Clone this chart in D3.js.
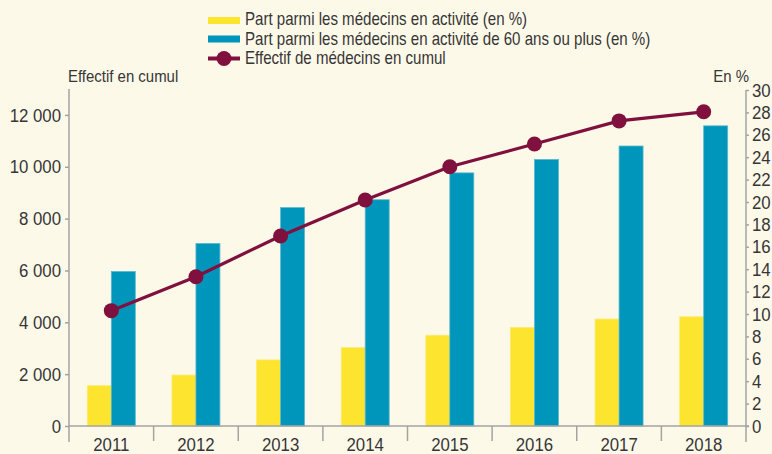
<!DOCTYPE html>
<html><head><meta charset="utf-8">
<script src="https://cdn.jsdelivr.net/npm/d3@7"></script>
<style>
html,body{margin:0;padding:0;background:#fdf9e9;}
svg{display:block;font-family:"Liberation Sans",Arial,sans-serif;}
</style></head><body>
<svg id="c" width="772" height="454"></svg>
<script>
const years = ["2011","2012","2013","2014","2015","2016","2017","2018"];
const partActivite = [3.6, 4.55, 5.9, 7.0, 8.1, 8.8, 9.55, 9.75];
const part60plus = [13.8, 16.3, 19.5, 20.2, 22.6, 23.8, 25.0, 26.8];
const effectifCumul = [4450, 5760, 7330, 8720, 10000, 10880, 11770, 12120];
const leftTicks = [0, 2000, 4000, 6000, 8000, 10000, 12000];
const rightTicks = d3.range(0, 31, 2);
const legendLabels = [
  "Part parmi les médecins en activité (en %)",
  "Part parmi les médecins en activité de 60 ans ou plus (en %)",
  "Effectif de médecins en cumul"
];

const C = {bg:"#fdf9e9", yellow:"#fde42e", blue:"#0095ba", maroon:"#80103d", axis:"#a3a3a3", text:"#363636"};
const svg = d3.select("#c");
svg.append("rect").attr("width",772).attr("height",454).attr("fill",C.bg);

// horizontally condense a text selection around its anchor point
function squeeze(sel, s) {
  sel.each(function() {
    const t = d3.select(this);
    const tx = +t.attr("x") || 0, ty = +t.attr("y") || 0;
    t.attr("x", 0).attr("y", 0).attr("transform", `translate(${tx},${ty}) scale(${s},1)`);
  });
}

const x0 = 69, x1 = 746, yBase = 426;
const x = d3.scaleBand().domain(years).range([x0, x1]).padding(0);
const yL = d3.scaleLinear().domain([0, 13000]).range([yBase, 89]);
const yR = d3.scaleLinear().domain([0, 30]).range([yBase, 90]);
const barW = 24;

// bars
const g = svg.append("g");
g.selectAll("rect.y").data(years).join("rect")
  .attr("x", d => x(d) + x.bandwidth()/2 - barW)
  .attr("y", (d,i) => yR(partActivite[i]))
  .attr("width", barW)
  .attr("height", (d,i) => yBase - yR(partActivite[i]))
  .attr("fill", C.yellow).attr("stroke","#fdea72").attr("stroke-width",0.8);
g.selectAll("rect.b").data(years).join("rect")
  .attr("x", d => x(d) + x.bandwidth()/2)
  .attr("y", (d,i) => yR(part60plus[i]))
  .attr("width", barW)
  .attr("height", (d,i) => yBase - yR(part60plus[i]))
  .attr("fill", C.blue).attr("stroke","#5ab8cf").attr("stroke-width",0.8);

// axes
const axL = svg.append("g").attr("transform", `translate(${x0},0)`)
  .call(d3.axisLeft(yL).tickValues(leftTicks).tickSize(4).tickPadding(4)
    .tickFormat(d => d3.format(",")(d).replace(/,/g," ")));
axL.select(".domain").attr("d", `M0,89V442`);
const axR = svg.append("g").attr("transform", `translate(${x1},0)`)
  .call(d3.axisRight(yR).tickValues(rightTicks).tickSize(3).tickPadding(3));
axR.select(".domain").attr("d", `M0,90V442`);
const axB = svg.append("g").attr("transform", `translate(0,${yBase})`)
  .call(d3.axisBottom(x).tickSize(0).tickPadding(14));
axB.select(".domain").attr("d", `M${x0},0H${x1+3}`);
axB.selectAll(".sep").data(years.slice(1)).join("line").attr("class","sep")
  .attr("x1", d => x(d)).attr("x2", d => x(d)).attr("y1",0).attr("y2",15)
  .attr("stroke", C.axis).attr("stroke-width",1.5);
[axL, axR, axB].forEach(a => {
  a.selectAll(".domain").attr("stroke", C.axis).attr("stroke-width",1.5).attr("fill","none");
  a.selectAll(".tick line").attr("stroke", C.axis).attr("stroke-width",1.5);
  a.selectAll("text").attr("fill", C.text).attr("font-size",17.5)
   .attr("font-family",'"Liberation Sans",Arial,sans-serif');
});
axR.selectAll("text").attr("dy","0.35em");
axL.selectAll("text").attr("dy","0.35em");
axB.selectAll(".tick text").attr("dy", null).attr("y", 25);
squeeze(axL.selectAll(".tick text"), 0.96);
squeeze(axR.selectAll(".tick text"), 0.96);
squeeze(axB.selectAll(".tick text"), 0.96);

// line
const line = d3.line().x((d,i) => x(years[i]) + x.bandwidth()/2).y(d => yL(d));
svg.append("path").datum(effectifCumul).attr("d", line)
  .attr("fill","none").attr("stroke", C.maroon).attr("stroke-width",3.2);
svg.selectAll("circle.p").data(effectifCumul).join("circle")
  .attr("cx", (d,i) => x(years[i]) + x.bandwidth()/2).attr("cy", d => yL(d))
  .attr("r", 7.5).attr("fill", C.maroon);

// axis titles
const titles = svg.append("g");
titles.append("text").attr("x",68).attr("y",82).attr("font-size",17).attr("fill",C.text).text("Effectif en cumul");
titles.append("text").attr("x",749).attr("y",82).attr("text-anchor","end").attr("font-size",17).attr("fill",C.text).text("En %");
squeeze(titles.selectAll("text"), 0.88);

// legend
const leg = svg.append("g");
const lb = [25, 44.5, 64];
leg.append("rect").attr("x",208).attr("y",lb[0]-8).attr("width",32).attr("height",7).attr("fill",C.yellow);
leg.append("rect").attr("x",208).attr("y",lb[1]-9).attr("width",32).attr("height",7).attr("fill",C.blue);
leg.append("line").attr("x1",208).attr("x2",240).attr("y1",lb[2]-5.5).attr("y2",lb[2]-5.5).attr("stroke",C.maroon).attr("stroke-width",4);
leg.append("circle").attr("cx",224).attr("cy",lb[2]-5.5).attr("r",7.5).attr("fill",C.maroon);
const lt = leg.selectAll("text").data(legendLabels).join("text")
  .attr("x",245).attr("y",(d,i)=>lb[i])
  .attr("font-size",18.5).attr("fill",C.text).text(d=>d);
squeeze(lt, 0.815);
</script>
</body></html>
